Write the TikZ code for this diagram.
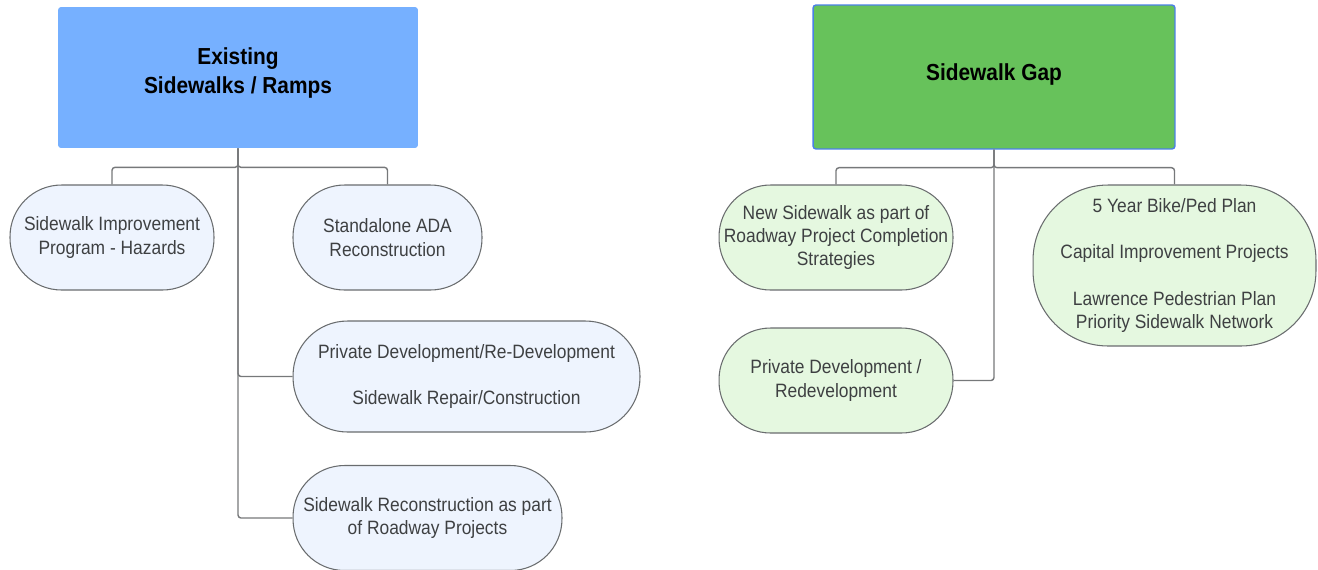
\documentclass[tikz,border=0pt]{standalone}
\usepackage{fontspec}
\setmainfont{Liberation Sans}[FakeStretch=0.9]
\definecolor{headblue}{RGB}{118,176,255}
\definecolor{headgreen}{RGB}{103,194,91}
\definecolor{headedge}{RGB}{74,128,230}
\definecolor{pillblue}{RGB}{238,244,254}
\definecolor{pillgreen}{RGB}{229,248,224}
\definecolor{pillline}{RGB}{105,108,110}
\definecolor{pilltext}{RGB}{62,64,66}
\definecolor{linkgray}{RGB}{118,120,122}
\tikzset{
  headbox/.style={rounded corners=0.06cm, inner sep=0pt, align=center, text=black,
    font=\bfseries\fontsize{13.2}{16.4}\selectfont},
  pill/.style={draw=pillline, line width=0.6pt, inner sep=0pt, align=center, text=pilltext,
    font=\fontsize{11}{13.3}\selectfont, rounded corners=1.03cm, minimum height=2.1cm},
  bluepill/.style={pill, fill=pillblue},
  greenpill/.style={pill, fill=pillgreen},
  link/.style={draw=linkgray, line width=0.8pt, rounded corners=0.06cm}
}
\begin{document}
\begin{tikzpicture}[x=0.02cm,y=-0.02cm]
    \useasboundingbox (0,0) rectangle (1318,569);
    % Existing sidewalks
    \node[headbox, fill=headblue, minimum width=7.2cm, minimum height=2.82cm] (exist) at (238,77.5) {};
    \node[headbox] (existlbl) at (238,73) {Existing\\Sidewalks / Ramps};
    \node[bluepill, minimum width=4.08cm] (hazard) at (112,237.5) {Sidewalk Improvement\\Program - Hazards};
    \node[bluepill, minimum width=3.78cm] (ada) at (387.5,237.5) {Standalone ADA\\Reconstruction};
    \node[bluepill, minimum width=6.94cm, minimum height=2.22cm, rounded corners=1.09cm] (privdev) at (466.5,376.5) {Private Development/Re-Development\\[13.3pt]Sidewalk Repair/Construction};
    \node[bluepill, minimum width=5.38cm] (recon) at (427.5,518) {Sidewalk Reconstruction as part\\of Roadway Projects};
    \draw[link] (exist.south) -- ++(0,19) -| (hazard.north);
    \draw[link] (exist.south) -- ++(0,19) -| (ada.north);
    \foreach \t in {privdev,recon}{\draw[link] (exist.south) |- (\t.west);}
    % Sidewalk gap
    \node[headbox, fill=headgreen, draw=headedge, line width=0.8pt, minimum width=7.24cm, minimum height=2.88cm] (gap) at (994,77) {};
    \node[headbox] (gaplbl) at (994,74) {Sidewalk Gap};
    \node[greenpill, minimum width=4.68cm] (newwalk) at (836,237.5) {New Sidewalk as part of\\Roadway Project Completion\\Strategies};
    \node[greenpill, minimum width=5.66cm, minimum height=3.22cm, rounded corners=1.5cm] (plans) at (1174.5,265.5) {5 Year Bike/Ped Plan\\[13.3pt]Capital Improvement Projects\\[13.3pt]Lawrence Pedestrian Plan\\Priority Sidewalk Network};
    \node[greenpill, minimum width=4.68cm] (redev) at (836,380.5) {Private Development /\\Redevelopment};
    \draw[link] (gap.south) -- ++(0,18) -| (newwalk.north);
    \draw[link] (gap.south) -- ++(0,18) -| (plans.north);
    \draw[link] (gap.south) |- (redev.east);
\end{tikzpicture}
\end{document}
